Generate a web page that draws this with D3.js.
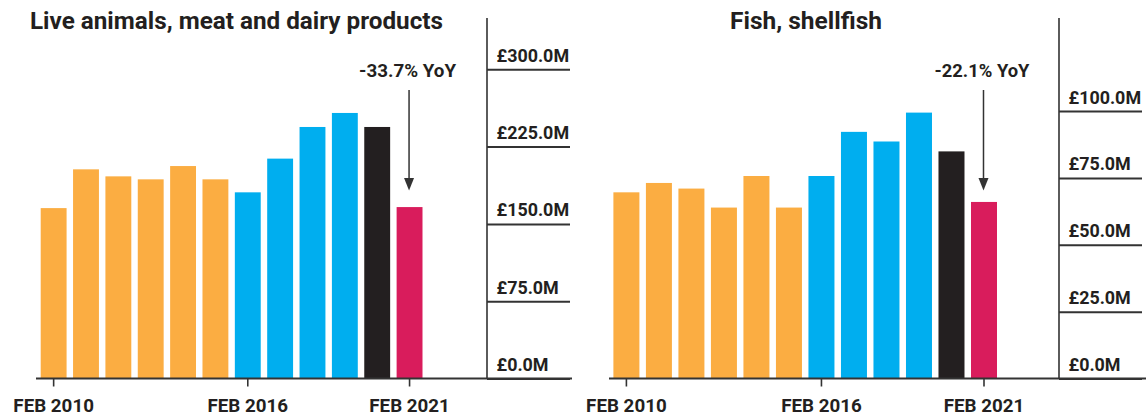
<!DOCTYPE html>
<html>
<head>
<meta charset="utf-8">
<script src="https://cdn.jsdelivr.net/npm/d3@7"></script>
<style>
  html, body { margin: 0; padding: 0; background: #fff; }
  svg { display: block; }
  text { font-family: Roboto, "DejaVu Sans", sans-serif; font-weight: 700; fill: #231f20; }
</style>
</head>
<body>
<svg id="chart" width="1146" height="417"></svg>
<script>
// ---- data ----
const years = [2010, 2011, 2012, 2013, 2014, 2015, 2016, 2017, 2018, 2019, 2020, 2021];
const meatValues = [165.3, 202.9, 196.1, 193.2, 206.1, 193.2, 180.6, 213.3, 244.0, 257.6, 244.0, 166.3];
const fishValues = [69.6, 73.1, 71.0, 63.9, 75.7, 63.9, 75.7, 92.2, 88.6, 99.4, 84.9, 66.0];
const meatTicks = [0, 75, 150, 225, 300];
const fishTicks = [0, 25, 50, 75, 100];
const xTickYears = [2010, 2016, 2021];
const titles = ["Live animals, meat and dairy products", "Fish, shellfish"];
const annotations = ["-33.7% YoY", "-22.1% YoY"];

function periodColor(y) {
  if (y <= 2015) return "#fbad42";
  if (y <= 2019) return "#00aeef";
  if (y === 2020) return "#231f20";
  return "#d91c5c";
}

const svg = d3.select("#chart");
const axisColor = "#333";

function fit(sel, w) {
  const n = sel.node();
  const cur = n.getComputedTextLength();
  const fs = parseFloat(sel.attr("font-size"));
  const nf = fs * w / cur;
  sel.attr("font-size", nf);
  return nf;
}

const panels = [
  { values: meatValues, ticks: meatTicks, max: 300, title: titles[0], note: annotations[0],
    x0: 40.7, x1: 422.5, topY: 69.25, axisX: 487, axisEnd: 570, baseStart: 36, baseEnd: 572,
    titleX: 30, titleW: 413, noteW: 97 },
  { values: fishValues, ticks: fishTicks, max: 100, title: titles[1], note: annotations[1],
    x0: 613.4, x1: 997, topY: 111, axisX: 1059, axisEnd: 1142, baseStart: 609, baseEnd: 1146,
    titleX: 730, titleW: 152, noteW: 95 }
];

const baseY = 378.5;
let tickFont = null, xFont = null;

panels.forEach((p, i) => {
  const g = svg.append("g");
  const x = d3.scaleBand().domain(years).range([p.x0, p.x1]).paddingInner(0.2).paddingOuter(0);
  const y = d3.scaleLinear().domain([0, p.max]).range([baseY, p.topY]);

  // bars
  g.selectAll("rect.bar").data(years.map((yr, k) => ({ yr, v: p.values[k] })))
    .join("rect").attr("class", "bar")
    .attr("x", d => x(d.yr)).attr("width", x.bandwidth())
    .attr("y", d => y(d.v)).attr("height", d => y(0) - y(d.v))
    .attr("fill", d => periodColor(d.yr));

  // baseline
  g.append("line").attr("x1", p.baseStart).attr("x2", p.baseEnd)
    .attr("y1", baseY).attr("y2", baseY)
    .attr("stroke", axisColor).attr("stroke-width", 2);

  // x axis
  const xa = g.append("g").attr("transform", `translate(0,${baseY})`)
    .call(d3.axisBottom(x).tickValues(xTickYears).tickSize(8).tickPadding(0).tickFormat(d => "FEB " + d));
  xa.select(".domain").remove();
  xa.selectAll(".tick line").attr("stroke", axisColor).attr("stroke-width", 1.6);
  xa.selectAll(".tick text").attr("y", 33).attr("dy", 0)
    .attr("font-family", null).attr("font-size", 18).attr("fill", "#231f20").style("font-weight", 700);
  if (xFont === null) xFont = fit(xa.select(".tick text"), 80.6);
  xa.selectAll(".tick text").attr("font-size", xFont);

  // y axis (right side)
  g.append("line").attr("x1", p.axisX).attr("x2", p.axisX).attr("y1", 18).attr("y2", baseY)
    .attr("stroke", axisColor).attr("stroke-width", 1.6);
  const ya = g.append("g").attr("transform", `translate(${p.axisX},0)`)
    .call(d3.axisRight(y).tickValues(p.ticks).tickSize(p.axisEnd - p.axisX)
      .tickFormat(d => "£" + d3.format(".1f")(d) + "M"));
  ya.select(".domain").remove();
  ya.selectAll(".tick line").attr("stroke", axisColor).attr("stroke-width", 2);
  ya.selectAll(".tick text").attr("x", 9.5).attr("y", -8).attr("dy", 0)
    .attr("font-family", null).attr("font-size", 18).attr("fill", "#231f20").style("font-weight", 700);
  if (tickFont === null) {
    const top = ya.selectAll(".tick text").filter(d => d === 300);
    tickFont = fit(top, 72.6);
  }
  ya.selectAll(".tick text").attr("font-size", tickFont);

  // title
  const t = g.append("text").attr("x", p.titleX).attr("y", 29.3).attr("font-size", 21).text(p.title);
  fit(t, p.titleW);

  // annotation
  const last = years[years.length - 1];
  const ax = x(last) + x.bandwidth() / 2 - 0.5;
  const n = g.append("text").attr("x", ax - 1.5).attr("y", 76.7).attr("text-anchor", "middle")
    .attr("font-size", 17).text(p.note);
  fit(n, p.noteW);
  g.append("line").attr("x1", ax).attr("x2", ax).attr("y1", 90).attr("y2", 180)
    .attr("stroke", axisColor).attr("stroke-width", 1.5);
  g.append("path")
    .attr("d", `M${ax - 5},178 L${ax + 5},178 L${ax},190.5 Z`)
    .attr("fill", axisColor);
});
</script>
</body>
</html>
